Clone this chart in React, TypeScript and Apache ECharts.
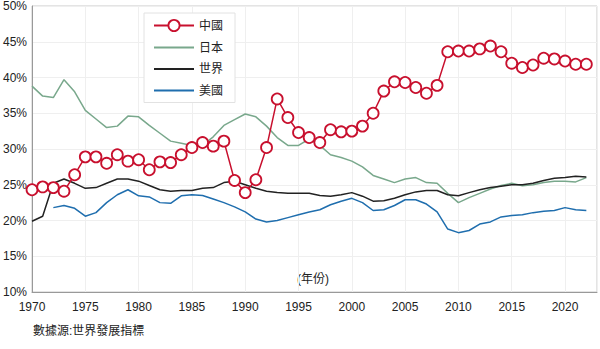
import React, { useEffect, useRef } from "react";
import * as echarts from "echarts";

const years = [
  1970, 1971, 1972, 1973, 1974, 1975, 1976, 1977, 1978, 1979,
  1980, 1981, 1982, 1983, 1984, 1985, 1986, 1987, 1988, 1989,
  1990, 1991, 1992, 1993, 1994, 1995, 1996, 1997, 1998, 1999,
  2000, 2001, 2002, 2003, 2004, 2005, 2006, 2007, 2008, 2009,
  2010, 2011, 2012, 2013, 2014, 2015, 2016, 2017, 2018, 2019,
  2020, 2021, 2022,
];

const china = [
  24.3, 24.7, 24.6, 24.1, 26.4, 28.9, 28.9, 28.0, 29.2, 28.3,
  28.5, 27.1, 28.2, 28.1, 29.2, 30.2, 30.9, 30.4, 31.1, 25.6,
  23.9, 25.7, 30.2, 37.0, 34.4, 32.3, 31.6, 30.9, 32.7, 32.4,
  32.5, 33.2, 35.0, 38.1, 39.4, 39.3, 38.6, 37.8, 38.9, 43.6,
  43.7, 43.7, 44.0, 44.4, 43.6, 42.0, 41.4, 41.75, 42.7, 42.6,
  42.3, 41.85, 41.85,
];

const japan = [
  38.8, 37.4, 37.2, 39.7, 38.0, 35.4, 34.2, 33.0, 33.2, 34.6,
  34.5, 33.3, 32.2, 31.1, 30.8, 30.5, 30.5, 31.7, 33.3, 34.1,
  34.9, 34.5, 33.2, 31.6, 30.5, 30.5, 31.4, 30.5, 29.2, 28.8,
  28.3, 27.5, 26.3, 25.8, 25.3, 25.8, 26.0, 25.3, 25.2, 23.8,
  22.5, 23.2, 23.8, 24.4, 24.9, 25.2, 24.85, 25.0, 25.3, 25.5,
  25.5, 25.4, 26.0,
];

const world = [
  19.9, 20.6, 25.2, 25.8, 25.2, 24.5, 24.6, 25.2, 25.8, 25.8,
  25.5, 24.9, 24.3, 24.1, 24.2, 24.2, 24.5, 24.6, 25.3, 25.5,
  25.0, 24.5, 24.1, 23.9, 23.8, 23.8, 23.8, 23.5, 23.4, 23.6,
  23.9, 23.4, 22.7, 22.75, 23.1, 23.6, 24.0, 24.2, 24.2, 23.6,
  23.45, 23.9, 24.3, 24.6, 24.8, 25.0, 25.0, 25.2, 25.6, 25.9,
  26.0, 26.2, 26.1,
];

const usa = [
  null, null, 21.8, 22.1, 21.7, 20.6, 21.1, 22.5, 23.6, 24.3,
  23.45, 23.3, 22.5, 22.4, 23.45, 23.6, 23.5, 23.0, 22.5, 21.9,
  21.2, 20.2, 19.8, 20.0, 20.4, 20.8, 21.2, 21.5, 22.2, 22.7,
  23.1, 22.5, 21.4, 21.5, 22.1, 22.9, 22.9, 22.3, 21.2, 18.8,
  18.3, 18.6, 19.5, 19.8, 20.5, 20.7, 20.8, 21.1, 21.3, 21.4,
  21.8, 21.5, 21.4,
];

const seriesNames = ["中國", "日本", "世界", "美國"];
const xAxisName = "(年份)";
const sourceText = "數據源:世界發展指標";

const FONT = "'Liberation Sans', Arial, 'Noto Sans CJK TC', sans-serif";

function pairs(vals: (number | null)[]) {
  return years.map((y, i) => [y, vals[i]]);
}

export default function App() {
  const ref = useRef<HTMLDivElement>(null);
  useEffect(() => {
    if (!ref.current) return;
    const chart = echarts.init(ref.current, null, { renderer: "svg" });
    chart.setOption({
      animation: false,
      backgroundColor: "#ffffff",
      textStyle: { fontFamily: FONT },
      grid: {
        left: 31,
        top: 6,
        right: 1,
        bottom: 57,
        show: true,
        borderColor: "#c8c8c8",
        borderWidth: 1,
      },
      legend: {
        data: seriesNames.map((n, i) =>
          i === 0
            ? { name: n, itemStyle: { borderWidth: 1.8 } }
            : { name: n, itemStyle: { opacity: 0 } }
        ),
        orient: "vertical",
        left: 144,
        top: 13,
        itemWidth: 40,
        itemHeight: 14,
        itemGap: 9.5,
        padding: [6, 12, 6, 9],
        borderColor: "#e2e2e2",
        borderWidth: 1,
        backgroundColor: "#ffffff",
        textStyle: { fontSize: 12, color: "#222", fontFamily: FONT },
      },
      xAxis: {
        type: "value",
        min: 1970,
        max: 2023,
        interval: 5,
        axisLine: { show: true, onZero: false, lineStyle: { color: "#999" } },
        axisTick: { show: false },
        splitLine: { show: true, lineStyle: { color: "#efefef" } },
        axisLabel: {
          color: "#222",
          fontSize: 12,
          margin: 9,
          formatter: (v: number) => (v % 5 === 0 ? String(v) : ""),
        },
      },
      yAxis: {
        type: "value",
        min: 10,
        max: 50,
        interval: 5,
        axisLine: { show: true, lineStyle: { color: "#999" } },
        axisTick: { show: false },
        splitLine: { show: true, lineStyle: { color: "#efefef" } },
        axisLabel: {
          color: "#222",
          fontSize: 12,
          margin: 5,
          formatter: (v: number) => v + "%",
        },
      },
      graphic: [
        {
          type: "text",
          left: 297,
          top: 273,
          style: { text: xAxisName, fontSize: 12, fill: "#222", fontFamily: FONT },
        },
        {
          type: "text",
          left: 33,
          top: 325,
          style: { text: sourceText, fontSize: 12, fill: "#222", fontFamily: FONT },
        },
      ],
      series: [
        {
          name: "日本",
          type: "line",
          data: pairs(japan),
          showSymbol: false,
          symbol: "none",
          lineStyle: { color: "#79a88c", width: 1.5 },
          itemStyle: { color: "#79a88c" },
          z: 2,
        },
        {
          name: "世界",
          type: "line",
          data: pairs(world),
          showSymbol: false,
          symbol: "none",
          lineStyle: { color: "#222222", width: 1.5 },
          itemStyle: { color: "#222222" },
          z: 3,
        },
        {
          name: "美國",
          type: "line",
          data: pairs(usa),
          showSymbol: false,
          symbol: "none",
          lineStyle: { color: "#1f6eae", width: 1.5 },
          itemStyle: { color: "#1f6eae" },
          z: 2,
        },
        {
          name: "中國",
          type: "line",
          data: pairs(china),
          symbol: "circle",
          symbolSize: 11,
          lineStyle: { color: "#c8102e", width: 1.5 },
          itemStyle: { color: "#ffffff", borderColor: "#c8102e", borderWidth: 1.8 },
          z: 5,
        },
      ],
    });
    return () => chart.dispose();
  }, []);
  return (
    <div
      ref={ref}
      style={{ position: "fixed", left: 0, top: 0, width: 600, height: 349 }}
    />
  );
}
